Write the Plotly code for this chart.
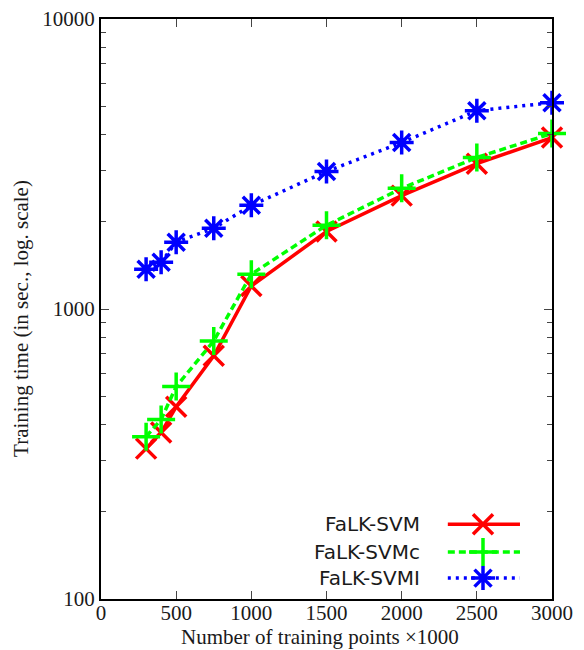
import plotly.graph_objects as go

x_points = [300, 400, 500, 750, 1000, 1500, 2000, 2500, 3000]
falk_svm = [330, 375, 460, 690, 1200, 1850, 2460, 3170, 3900]
falk_svmc = [363, 416, 540, 776, 1318, 1944, 2606, 3330, 4030]
falk_svml = [1372, 1450, 1700, 1898, 2277, 2980, 3750, 4830, 5145]
series_names = ["FaLK-SVM", "FaLK-SVMc", "FaLK-SVMl"]
legend_labels = ["FaLK-SVM", "FaLK-SVMc", "FaLK-SVMI"]
x_ticks = [0, 500, 1000, 1500, 2000, 2500, 3000]
y_ticks = [100, 1000, 10000]
x_title = "Number of training points ×1000"
y_title = "Training time (in sec., log. scale)"

colors = ["#ff0000", "#00ff00", "#0000ff"]
dashes = ["solid", "7px,4px", "3px,5px"]
symbols = ["x-thin", "cross-thin", "asterisk"]
msizes = [20, 20, 20]
series = [falk_svm, falk_svmc, falk_svml]

fig = go.Figure()
for name, ys, c, d, s, ms in zip(series_names, series, colors, dashes, symbols, msizes):
    fig.add_trace(go.Scatter(
        x=x_points, y=ys, mode="lines+markers", name=name, showlegend=False,
        line=dict(color=c, width=3.5, dash=d),
        marker=dict(symbol=s, size=ms, color=c, line=dict(color=c, width=3.5)),
        cliponaxis=False,
    ))

# custom legend (text left, sample right) on an overlay axis
leg_y = [0.129, 0.081, 0.036]
for lab, yv, c, d, s, ms in zip(legend_labels, leg_y, colors, dashes, symbols, msizes):
    fig.add_trace(go.Scatter(
        x=[0.769, 0.929], y=[yv, yv], mode="lines", xaxis="x2", yaxis="y2",
        showlegend=False, hoverinfo="skip",
        line=dict(color=c, width=3.5, dash=d),
    ))
    fig.add_trace(go.Scatter(
        x=[0.847], y=[yv], mode="markers", xaxis="x2", yaxis="y2",
        showlegend=False, hoverinfo="skip",
        marker=dict(symbol=s, size=ms, color=c, line=dict(color=c, width=3.5)),
    ))
    fig.add_annotation(
        x=0.712, y=yv, xref="x2", yref="y2", text=lab, showarrow=False,
        xanchor="right", yanchor="middle",
        font=dict(family="DejaVu Sans", size=20, color="#1a1a1a"),
    )

tick_font = dict(family="Liberation Serif", size=21, color="#1a1a1a")
title_font = dict(family="Liberation Serif", size=21, color="#1a1a1a")

# axis titles as paper annotations
fig.add_annotation(
    x=0.486, y=-0.066, xref="paper", yref="paper", text=x_title, showarrow=False,
    xanchor="center", yanchor="middle", font=title_font, borderpad=0,
)
fig.add_annotation(
    x=-0.176, y=0.484, xref="paper", yref="paper", text=y_title, showarrow=False,
    xanchor="center", yanchor="middle", textangle=-90, font=title_font,
)

fig.update_layout(
    width=584, height=650,
    margin=dict(l=101, r=32, t=19, b=51),
    plot_bgcolor="white", paper_bgcolor="white",
    font=tick_font,
    xaxis=dict(
        range=[0, 3000], tickvals=x_ticks, ticks="inside", ticklen=8,
        showline=True, linecolor="black", linewidth=2, mirror="ticks",
        showgrid=False, zeroline=False, tickfont=tick_font, automargin=False,
        ticklabelstandoff=-6,
    ),
    yaxis=dict(
        type="log", range=[2, 4], tickvals=y_ticks, ticktext=["100", "1000", "10000"],
        ticks="inside", ticklen=8,
        minor=dict(ticks="inside", ticklen=5, dtick="D1", showgrid=False),
        showline=True, linecolor="black", linewidth=2, mirror="ticks",
        showgrid=False, zeroline=False, tickfont=tick_font, automargin=False,
    ),
    xaxis2=dict(range=[0, 1], overlaying="x", visible=False, fixedrange=True),
    yaxis2=dict(range=[0, 1], overlaying="y", visible=False, fixedrange=True),
)

fig.write_html("out.html")
